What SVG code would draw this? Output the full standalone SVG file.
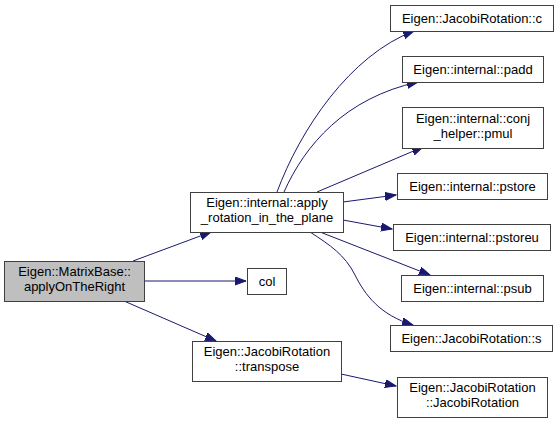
<svg xmlns="http://www.w3.org/2000/svg" width="559" height="423" viewBox="0 0 559 423">
<style>
.n rect{fill:#ffffff;stroke:#404040;stroke-width:1}
.n.root rect{fill:#bfbfbf}
.n text{font-family:"Liberation Sans",Arial,sans-serif;font-size:13px;fill:#000;text-anchor:middle}
#edges path{fill:none;stroke:#191970;stroke-width:1;marker-end:url(#ah)}
</style>
<defs>
<marker id="ah" markerUnits="userSpaceOnUse" markerWidth="12" markerHeight="9" refX="11" refY="4" orient="auto">
<path d="M0,0 L11,4 L0,8 z" fill="#191970" stroke="#191970" stroke-width="1"/>
</marker>
</defs>
<rect width="559" height="423" fill="#ffffff"/>
<g id="edges">
<path d="M133,261 L211,232"/>
<path d="M144,281 L246,281"/>
<path d="M124,301 L216,341"/>
<path d="M341,374 L396,386"/>
<path d="M277,192 C300,130 350,55 414,31"/>
<path d="M284,192 C305,145 345,98 418,82"/>
<path d="M317,192 L423,147"/>
<path d="M343,202 L396,195"/>
<path d="M343,220 L392,229"/>
<path d="M320,232 L430,275"/>
<path d="M310,232 C330,245 345,255 355,275 C365,295 380,315 413,325"/>
</g>
<g id="matrixbase" class="n root"><rect x="4.5" y="261.5" width="140" height="40"/><text x="74.5" y="276">Eigen::MatrixBase::</text><text x="74.5" y="291">applyOnTheRight</text></g>
<g id="apply_rotation" class="n"><rect x="190.5" y="192.5" width="153" height="40"/><text x="267" y="207">Eigen::internal::apply</text><text x="267" y="222">_rotation_in_the_plane</text></g>
<g id="col" class="n"><rect x="247.5" y="268.5" width="39" height="26"/><text x="267" y="286">col</text></g>
<g id="transpose" class="n"><rect x="192.5" y="341.5" width="149" height="40"/><text x="267" y="356">Eigen::JacobiRotation</text><text x="267" y="371">::transpose</text></g>
<g id="c" class="n"><rect x="390.5" y="5.5" width="163" height="26"/><text x="472" y="23">Eigen::JacobiRotation::c</text></g>
<g id="padd" class="n"><rect x="402.5" y="56.5" width="141" height="26"/><text x="473" y="74">Eigen::internal::padd</text></g>
<g id="pmul" class="n"><rect x="402.5" y="107.5" width="141" height="41"/><text x="473" y="123">Eigen::internal::conj</text><text x="473" y="138">_helper::pmul</text></g>
<g id="pstore" class="n"><rect x="397.5" y="173.5" width="150" height="26"/><text x="472.5" y="191">Eigen::internal::pstore</text></g>
<g id="pstoreu" class="n"><rect x="393.5" y="224.5" width="157" height="26"/><text x="472" y="242">Eigen::internal::pstoreu</text></g>
<g id="psub" class="n"><rect x="401.5" y="275.5" width="142" height="26"/><text x="472.5" y="293">Eigen::internal::psub</text></g>
<g id="s" class="n"><rect x="390.5" y="325.5" width="162" height="26"/><text x="471.5" y="343">Eigen::JacobiRotation::s</text></g>
<g id="jacobirotation" class="n"><rect x="397.5" y="377.5" width="150" height="40"/><text x="472.5" y="392">Eigen::JacobiRotation</text><text x="472.5" y="407">::JacobiRotation</text></g>
</svg>
